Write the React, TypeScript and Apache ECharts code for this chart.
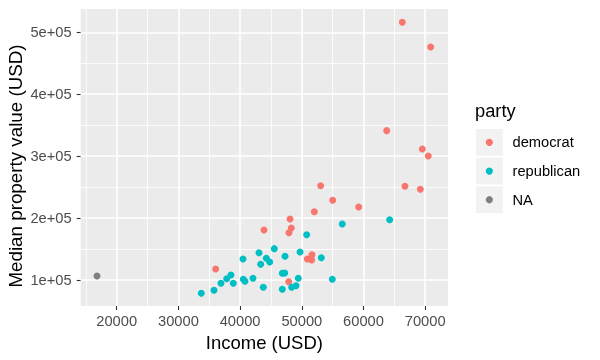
import React, { useEffect, useRef } from "react";
import * as echarts from "echarts";

// Income (USD) and median property value (USD) per state, by party
const demIncome = [66290, 70890, 63760, 69530, 70500, 53060, 66720, 69210, 55010, 59220, 52030, 48090, 43870, 48300, 47920, 51650, 50890, 51600, 47880, 36040];
const demValue = [516300, 476400, 341200, 311600, 300300, 252300, 251400, 246500, 228800, 217900, 210300, 198500, 180800, 184000, 176400, 140900, 133900, 132300, 97300, 117800];

const repIncome = [64240, 56560, 50790, 45540, 43060, 49710, 44250, 47280, 53160, 43340, 44800, 42090, 46840, 47230, 49430, 54940, 43760, 46840, 48360, 49060, 40470, 38520, 37830, 36900, 38900, 40520, 40790, 33710, 35770];
const repValue = [197400, 190500, 173200, 150600, 144100, 145200, 135000, 138300, 136000, 125400, 129100, 102700, 110800, 111300, 102700, 101100, 88200, 85000, 88200, 90800, 133900, 108100, 102100, 94700, 94700, 101100, 97900, 78500, 83400];

const naIncome = [16810];
const naValue = [106500];

const xTicks = [20000, 30000, 40000, 50000, 60000, 70000];
const yTicks = [100000, 200000, 300000, 400000, 500000];
const xMinor = [15000, 25000, 35000, 45000, 55000, 65000];
const yMinor = [150000, 250000, 350000, 450000];

const partyNames = ["democrat", "republican", "NA"];
const partyColors = ["#F8766D", "#00BFC4", "#7F7F7F"];

const xTitle = "Income (USD)";
const yTitle = "Median property value (USD)";
const legendTitle = "party";

const FONT = "'Liberation Sans', Arial, Helvetica, sans-serif";

function zip(a: number[], b: number[]) {
  return a.map((v, i) => [v, b[i]]);
}

export default function App() {
  const ref = useRef<HTMLDivElement>(null);
  useEffect(() => {
    if (!ref.current) return;
    const chart = echarts.init(ref.current, undefined, { renderer: "svg" });

    const seriesData = [zip(demIncome, demValue), zip(repIncome, repValue), zip(naIncome, naValue)];

    const legendX = 476;
    const keyTops = [129, 157.7, 186.4];
    const keySize = 26.7;
    const graphics: any[] = [
      {
        type: "text",
        x: 15.9,
        y: 166,
        rotation: Math.PI / 2,
        style: {
          text: yTitle,
          fontSize: 18.8,
          fontFamily: FONT,
          fill: "#000",
          align: "center",
          verticalAlign: "middle",
        },
      },
      {
        type: "text",
        left: 475,
        top: 101,
        style: { text: legendTitle, fontSize: 18.3, fontFamily: FONT, fill: "#000" },
      },
    ];
    partyNames.forEach((name, i) => {
      const cy = keyTops[i] + keySize / 2;
      graphics.push({
        type: "rect",
        shape: { x: legendX, y: keyTops[i], width: keySize, height: keySize },
        style: { fill: "#F2F2F2" },
      });
      graphics.push({
        type: "circle",
        shape: { cx: legendX + keySize / 2, cy, r: 3.6 },
        style: { fill: partyColors[i] },
      });
      graphics.push({
        type: "text",
        x: 512.5,
        y: cy,
        style: {
          text: name,
          fontSize: 14.7,
          fontFamily: FONT,
          fill: "#000",
          verticalAlign: "middle",
          align: "left",
        },
      });
    });

    const gridLine = (w: number) => ({ type: "solid", color: "#FFFFFF", width: w });

    chart.setOption({
      animation: false,
      grid: {
        left: 80.7,
        top: 9,
        right: 152,
        bottom: 54,
        show: true,
        backgroundColor: "#EBEBEB",
        borderWidth: 0,
        containLabel: false,
        outerBoundsMode: "none",
      },
      xAxis: {
        type: "value",
        min: 14165,
        max: 73696,
        name: xTitle,
        nameLocation: "middle",
        nameGap: 22,
        nameTextStyle: { fontSize: 18.5, fontFamily: FONT, color: "#000" },
        axisLine: { show: false },
        axisTick: { show: true, length: 4, customValues: xTicks, lineStyle: { color: "#333333", width: 1.1 } },
        axisLabel: {
          customValues: xTicks,
          margin: 7,
          fontSize: 14.7,
          fontFamily: FONT,
          color: "#4D4D4D",
          formatter: (v: number) => String(v),
        },
        splitLine: { show: false },
      },
      yAxis: {
        type: "value",
        min: 58000,
        max: 537640,
        axisLine: { show: false },
        axisTick: { show: true, length: 4, customValues: yTicks, lineStyle: { color: "#333333", width: 1.1 } },
        axisLabel: {
          customValues: yTicks,
          margin: 9,
          fontSize: 14.7,
          fontFamily: FONT,
          color: "#4D4D4D",
          formatter: (v: number) => `${Math.round(v / 100000)}e+05`,
        },
        splitLine: { show: false },
      },
      graphic: graphics,
      series: [
        {
          type: "scatter",
          name: "grid",
          data: [],
          z: 1,
          silent: true,
          markLine: {
            silent: true,
            z: 1,
            symbol: ["none", "none"],
            label: { show: false },
            animation: false,
            data: [
              ...xMinor.map((v) => ({ xAxis: v, lineStyle: gridLine(0.8) })),
              ...yMinor.map((v) => ({ yAxis: v, lineStyle: gridLine(0.8) })),
              ...xTicks.map((v) => ({ xAxis: v, lineStyle: gridLine(1.6) })),
              ...yTicks.map((v) => ({ yAxis: v, lineStyle: gridLine(1.6) })),
            ],
          },
        },
        ...partyNames.map((name, i) => ({
          type: "scatter",
          name,
          data: seriesData[i],
          symbol: "circle",
          symbolSize: 7,
          z: 3,
          itemStyle: { color: partyColors[i], opacity: 1 },
        })),
      ],
    });
    return () => chart.dispose();
  }, []);
  return <div ref={ref} style={{ position: "fixed", left: 0, top: 0, width: 600, height: 360 }} />;
}
